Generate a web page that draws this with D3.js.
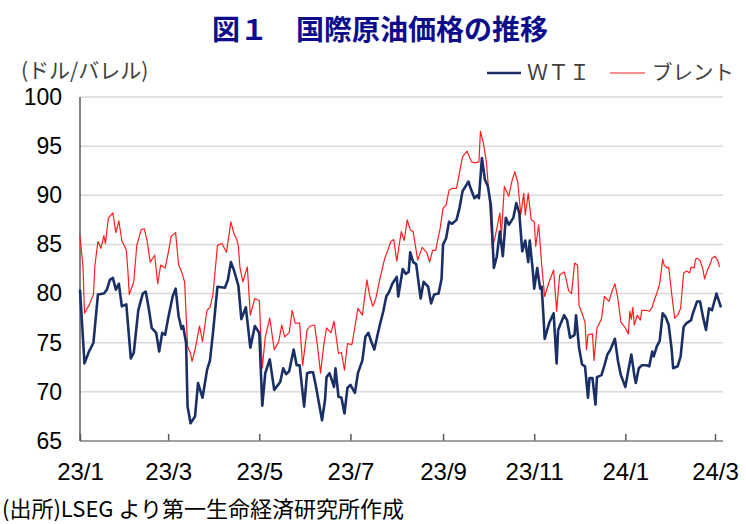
<!DOCTYPE html>
<html>
<head>
<meta charset="utf-8">
<script src="https://cdn.jsdelivr.net/npm/d3@7"></script>
<style>
  body { margin: 0; background: #fff; }
  svg { display: block; }
</style>
</head>
<body>
<svg id="chart" width="746" height="524"></svg>
<script>
// x axis labels (yy/m) and y ticks
var monthTicks = ["23/1", "23/3", "23/5", "23/7", "23/9", "23/11", "24/1", "24/3"];
var yTicks = [65, 70, 75, 80, 85, 90, 95, 100];

// WTI, USD/bbl
var wti = [
  ["23-01-01", 80.4], ["23-01-04", 72.9], ["23-01-07", 74.1], ["23-01-10", 75.0], ["23-01-13", 79.9],
  ["23-01-17", 80.0], ["23-01-19", 80.4], ["23-01-21", 81.4], ["23-01-23", 81.6], ["23-01-25", 80.4],
  ["23-01-27", 81.0], ["23-01-29", 78.7], ["23-02-01", 78.9], ["23-02-04", 73.4], ["23-02-06", 74.0],
  ["23-02-09", 78.3], ["23-02-12", 80.0], ["23-02-14", 80.2], ["23-02-16", 78.5], ["23-02-18", 76.5],
  ["23-02-21", 76.0], ["23-02-23", 74.1], ["23-02-25", 76.0], ["23-02-27", 75.8], ["23-03-01", 77.5],
  ["23-03-04", 79.7], ["23-03-06", 80.5], ["23-03-08", 77.7], ["23-03-10", 76.4], ["23-03-11", 76.7],
  ["23-03-13", 75.0], ["23-03-14", 68.5], ["23-03-16", 66.8], ["23-03-19", 67.5], ["23-03-21", 70.9],
  ["23-03-24", 69.4], ["23-03-27", 72.2], ["23-03-29", 73.2], ["23-03-31", 76.0], ["23-04-03", 80.7],
  ["23-04-08", 80.6], ["23-04-10", 81.4], ["23-04-12", 83.2], ["23-04-14", 82.4], ["23-04-17", 80.8],
  ["23-04-19", 77.4], ["23-04-22", 78.6], ["23-04-25", 74.5], ["23-04-28", 76.7], ["23-05-01", 76.0],
  ["23-05-03", 68.6], ["23-05-05", 71.9], ["23-05-08", 73.3], ["23-05-11", 70.2], ["23-05-15", 71.0],
  ["23-05-17", 72.4], ["23-05-19", 71.8], ["23-05-21", 72.1], ["23-05-24", 74.3], ["23-05-26", 72.7],
  ["23-05-28", 72.7], ["23-05-31", 68.5], ["23-06-02", 71.9], ["23-06-04", 72.0], ["23-06-06", 72.0],
  ["23-06-08", 70.5], ["23-06-12", 67.1], ["23-06-14", 69.2], ["23-06-15", 71.5], ["23-06-17", 71.9],
  ["23-06-20", 70.5], ["23-06-21", 72.4], ["23-06-23", 69.5], ["23-06-25", 69.4], ["23-06-27", 67.8],
  ["23-06-29", 70.4], ["23-07-01", 70.7], ["23-07-04", 69.9], ["23-07-06", 71.9], ["23-07-09", 73.2],
  ["23-07-11", 75.6], ["23-07-13", 76.0], ["23-07-15", 75.1], ["23-07-17", 74.3], ["23-07-19", 75.7],
  ["23-07-21", 77.0], ["23-07-23", 78.2], ["23-07-25", 79.7], ["23-07-27", 80.2], ["23-07-29", 81.0],
  ["23-08-01", 81.7], ["23-08-02", 79.7], ["23-08-05", 82.5], ["23-08-07", 82.0], ["23-08-09", 82.2],
  ["23-08-10", 84.2], ["23-08-12", 83.2], ["23-08-14", 83.0], ["23-08-17", 79.5], ["23-08-19", 81.2],
  ["23-08-22", 80.7], ["23-08-24", 79.0], ["23-08-26", 79.9], ["23-08-29", 80.0], ["23-08-31", 81.5],
  ["23-09-01", 85.0], ["23-09-03", 85.6], ["23-09-05", 87.3], ["23-09-07", 87.1], ["23-09-10", 87.5],
  ["23-09-12", 88.7], ["23-09-14", 90.4], ["23-09-18", 91.4], ["23-09-19", 90.9], ["23-09-22", 89.7],
  ["23-09-24", 90.0], ["23-09-25", 89.7], ["23-09-27", 93.8], ["23-09-29", 91.6], ["23-10-01", 90.9],
  ["23-10-03", 89.0], ["23-10-05", 82.6], ["23-10-07", 83.8], ["23-10-09", 86.3], ["23-10-11", 83.8],
  ["23-10-13", 87.7], ["23-10-15", 87.0], ["23-10-18", 87.7], ["23-10-20", 89.2], ["23-10-22", 88.2],
  ["23-10-24", 84.3], ["23-10-26", 85.4], ["23-10-28", 83.2], ["23-10-29", 85.4], ["23-10-31", 82.4],
  ["23-11-01", 80.5], ["23-11-03", 82.6], ["23-11-05", 80.5], ["23-11-06", 80.7], ["23-11-07", 78.2],
  ["23-11-08", 75.4], ["23-11-11", 77.0], ["23-11-14", 78.0], ["23-11-16", 72.9], ["23-11-17", 76.3],
  ["23-11-21", 77.8], ["23-11-23", 77.3], ["23-11-25", 75.5], ["23-11-28", 75.8], ["23-11-29", 77.8],
  ["23-12-01", 74.5], ["23-12-03", 72.8], ["23-12-05", 72.6], ["23-12-07", 69.4], ["23-12-08", 71.4],
  ["23-12-10", 71.4], ["23-12-12", 68.7], ["23-12-13", 71.5], ["23-12-16", 71.7], ["23-12-18", 72.7],
  ["23-12-20", 73.8], ["23-12-22", 74.3], ["23-12-25", 75.4], ["23-12-27", 73.2], ["23-12-29", 71.7],
  ["24-01-01", 70.5], ["24-01-03", 72.2], ["24-01-05", 73.8], ["24-01-07", 71.7], ["24-01-08", 70.9],
  ["24-01-10", 72.4], ["24-01-12", 72.7], ["24-01-15", 72.7], ["24-01-17", 72.6], ["24-01-19", 74.1],
  ["24-01-20", 73.6], ["24-01-22", 74.6], ["24-01-24", 75.2], ["24-01-26", 78.0], ["24-01-28", 77.6],
  ["24-01-30", 76.8], ["24-02-01", 74.3], ["24-02-02", 72.4], ["24-02-05", 72.6], ["24-02-07", 73.6],
  ["24-02-09", 76.6], ["24-02-11", 77.0], ["24-02-14", 77.3], ["24-02-15", 77.9], ["24-02-18", 79.2],
  ["24-02-20", 79.2], ["24-02-22", 77.6], ["24-02-24", 76.3], ["24-02-26", 78.5], ["24-02-28", 78.3],
  ["24-03-02", 80.0], ["24-03-05", 78.6]
];

// Brent, USD/bbl
var brent = [
  ["23-01-01", 85.9], ["23-01-03", 82.7], ["23-01-04", 78.0], ["23-01-07", 78.8], ["23-01-10", 79.9],
  ["23-01-11", 82.9], ["23-01-13", 85.3], ["23-01-15", 84.6], ["23-01-17", 85.9], ["23-01-18", 85.1],
  ["23-01-20", 87.7], ["23-01-23", 88.2], ["23-01-25", 86.2], ["23-01-27", 87.4], ["23-01-29", 85.4],
  ["23-02-01", 84.4], ["23-02-02", 82.4], ["23-02-03", 79.9], ["23-02-06", 81.2], ["23-02-08", 84.9],
  ["23-02-11", 86.5], ["23-02-13", 86.6], ["23-02-15", 85.3], ["23-02-17", 83.2], ["23-02-20", 83.9],
  ["23-02-22", 81.0], ["23-02-24", 82.9], ["23-02-27", 82.6], ["23-03-01", 84.1], ["23-03-03", 85.8],
  ["23-03-06", 86.2], ["23-03-08", 82.9], ["23-03-10", 82.2], ["23-03-12", 81.2], ["23-03-14", 74.6],
  ["23-03-16", 73.9], ["23-03-17", 73.1], ["23-03-19", 74.3], ["23-03-22", 76.7], ["23-03-24", 75.1],
  ["23-03-27", 78.3], ["23-03-29", 78.6], ["23-03-31", 79.9], ["23-04-03", 84.9], ["23-04-06", 85.1],
  ["23-04-09", 84.2], ["23-04-12", 87.3], ["23-04-14", 86.1], ["23-04-16", 85.5], ["23-04-17", 84.8],
  ["23-04-18", 82.7], ["23-04-20", 81.2], ["23-04-23", 82.7], ["23-04-25", 77.8], ["23-04-28", 79.5],
  ["23-05-01", 79.3], ["23-05-03", 72.4], ["23-05-05", 75.6], ["23-05-08", 77.5], ["23-05-11", 74.3],
  ["23-05-14", 75.1], ["23-05-16", 76.8], ["23-05-18", 75.6], ["23-05-21", 76.0], ["23-05-23", 78.3],
  ["23-05-25", 77.0], ["23-05-28", 77.0], ["23-05-30", 72.7], ["23-06-02", 76.3], ["23-06-04", 76.7],
  ["23-06-07", 76.8], ["23-06-09", 74.6], ["23-06-11", 71.9], ["23-06-13", 74.6], ["23-06-15", 76.5],
  ["23-06-18", 76.0], ["23-06-20", 77.2], ["23-06-23", 73.9], ["23-06-25", 74.0], ["23-06-27", 72.2],
  ["23-06-29", 74.9], ["23-07-02", 74.8], ["23-07-04", 76.6], ["23-07-06", 78.5], ["23-07-09", 77.8],
  ["23-07-12", 81.4], ["23-07-14", 79.7], ["23-07-16", 78.7], ["23-07-18", 79.5], ["23-07-21", 81.7],
  ["23-07-24", 83.6], ["23-07-26", 84.4], ["23-07-28", 85.3], ["23-07-30", 85.5], ["23-08-01", 83.3],
  ["23-08-04", 86.3], ["23-08-06", 85.4], ["23-08-08", 87.5], ["23-08-10", 86.5], ["23-08-12", 86.3],
  ["23-08-15", 83.4], ["23-08-18", 84.7], ["23-08-21", 84.2], ["23-08-23", 83.2], ["23-08-25", 84.4],
  ["23-08-27", 84.4], ["23-08-30", 86.6], ["23-09-01", 88.7], ["23-09-03", 89.0], ["23-09-05", 90.5],
  ["23-09-07", 90.7], ["23-09-10", 90.7], ["23-09-12", 92.3], ["23-09-14", 93.9], ["23-09-17", 94.5],
  ["23-09-20", 93.4], ["23-09-22", 93.3], ["23-09-25", 93.4], ["23-09-26", 96.5], ["23-09-28", 95.3],
  ["23-09-30", 93.4], ["23-10-02", 89.5], ["23-10-04", 84.6], ["23-10-06", 85.9], ["23-10-09", 88.2],
  ["23-10-10", 85.9], ["23-10-12", 90.9], ["23-10-15", 89.9], ["23-10-17", 91.4], ["23-10-19", 92.4],
  ["23-10-21", 91.3], ["23-10-23", 88.0], ["23-10-25", 90.2], ["23-10-26", 88.0], ["23-10-28", 90.2],
  ["23-10-30", 87.5], ["23-11-01", 87.3], ["23-11-02", 84.8], ["23-11-04", 87.0], ["23-11-06", 82.9],
  ["23-11-08", 79.7], ["23-11-11", 81.2], ["23-11-14", 82.4], ["23-11-16", 78.2], ["23-11-18", 81.9],
  ["23-11-21", 82.2], ["23-11-22", 81.7], ["23-11-24", 80.3], ["23-11-26", 80.0], ["23-11-28", 83.1],
  ["23-11-30", 82.9], ["23-12-01", 78.8], ["23-12-03", 78.0], ["23-12-05", 77.1], ["23-12-06", 74.3],
  ["23-12-07", 75.8], ["23-12-10", 75.9], ["23-12-11", 73.2], ["23-12-13", 76.5], ["23-12-16", 77.4],
  ["23-12-18", 79.7], ["23-12-21", 79.2], ["23-12-23", 80.2], ["23-12-25", 81.0], ["23-12-27", 79.5],
  ["23-12-29", 77.1], ["24-01-01", 76.5], ["24-01-03", 75.9], ["24-01-04", 78.2], ["24-01-05", 77.4],
  ["24-01-06", 78.6], ["24-01-07", 76.8], ["24-01-09", 77.8], ["24-01-11", 77.3], ["24-01-12", 78.3],
  ["24-01-15", 78.3], ["24-01-17", 78.2], ["24-01-19", 78.6], ["24-01-20", 79.2], ["24-01-22", 80.0],
  ["24-01-24", 81.0], ["24-01-26", 83.5], ["24-01-27", 82.9], ["24-01-29", 82.6], ["24-01-30", 82.7],
  ["24-02-01", 80.0], ["24-02-03", 77.5], ["24-02-05", 77.8], ["24-02-07", 78.5], ["24-02-09", 82.1],
  ["24-02-11", 82.3], ["24-02-13", 82.1], ["24-02-14", 82.7], ["24-02-16", 82.6], ["24-02-17", 83.5],
  ["24-02-18", 83.6], ["24-02-20", 83.4], ["24-02-22", 82.4], ["24-02-23", 81.5], ["24-02-25", 82.4],
  ["24-02-27", 83.1], ["24-02-28", 83.6], ["24-03-01", 83.8], ["24-03-03", 83.3], ["24-03-04", 82.7]
];

var parseDay = d3.timeParse("%y-%m-%d");
var parseMonth = d3.timeParse("%y/%m");

var jpFont = "'Noto Sans CJK JP', sans-serif";
var numFont = "'Liberation Sans Narrow', 'Liberation Sans', sans-serif";

var plotLeft = 80, plotRight = 723, plotTop = 97, plotBottom = 441;

var svg = d3.select("#chart");

var x = d3.scaleTime()
    .domain([parseMonth("23/1"), parseMonth("24/3")])
    .range([plotLeft, 715]);

var y = d3.scaleLinear()
    .domain([65, 100])
    .range([plotBottom, plotTop]);

// title
svg.append("text")
    .attr("x", 380)
    .attr("y", 40)
    .attr("text-anchor", "middle")
    .style("font-family", jpFont)
    .style("font-weight", "bold")
    .style("font-size", "28px")
    .style("fill", "#0d0d8c")
    .text("図１　国際原油価格の推移");

// unit
svg.append("text")
    .attr("x", 21)
    .attr("y", 78)
    .style("font-family", jpFont)
    .style("font-size", "21px")
    .style("fill", "#404040")
    .text("(ドル/バレル)");

// gridlines
svg.append("g")
    .selectAll("line")
    .data(yTicks.filter(function (d) { return d > 65; }))
    .enter().append("line")
    .attr("x1", plotLeft)
    .attr("x2", plotRight)
    .attr("y1", function (d) { return y(d); })
    .attr("y2", function (d) { return y(d); })
    .attr("stroke", "#d9d9d9")
    .attr("stroke-width", 1.5);

// y axis labels
var yAxis = d3.axisLeft(y)
    .tickValues(yTicks)
    .tickSize(0)
    .tickPadding(18)
    .tickFormat(d3.format("d"));

var gy = svg.append("g")
    .attr("transform", "translate(" + plotLeft + ",0)")
    .call(yAxis);
gy.select(".domain").remove();
gy.selectAll("text")
    .style("font-family", numFont)
    .style("font-size", "23px")
    .style("fill", "#000");

// x axis
var xAxis = d3.axisBottom(x)
    .tickValues(monthTicks.map(function (m) { return parseMonth(m); }))
    .tickSize(-7)
    .tickPadding(22)
    .tickFormat(function (d, i) { return monthTicks[i]; });

var gx = svg.append("g")
    .attr("transform", "translate(0," + plotBottom + ")")
    .call(xAxis);
gx.select(".domain").remove();
gx.selectAll("line").attr("stroke", "#595959").attr("stroke-width", 1.5);
gx.selectAll("text")
    .style("font-family", numFont)
    .style("font-size", "24px")
    .style("fill", "#000");

svg.append("line")
    .attr("x1", plotLeft).attr("x2", plotRight)
    .attr("y1", plotBottom).attr("y2", plotBottom)
    .attr("stroke", "#7f7f7f").attr("stroke-width", 1.5);

svg.append("line")
    .attr("x1", plotLeft).attr("x2", plotLeft)
    .attr("y1", plotTop).attr("y2", plotBottom)
    .attr("stroke", "#595959").attr("stroke-width", 1.5);

// lines
var line = d3.line()
    .x(function (d) { return x(parseDay(d[0])); })
    .y(function (d) { return y(d[1]); });

svg.append("path")
    .datum(brent)
    .attr("d", line)
    .attr("fill", "none")
    .attr("stroke", "#ff1f1f")
    .attr("stroke-width", 1.2)
    .attr("stroke-linejoin", "round");

svg.append("path")
    .datum(wti)
    .attr("d", line)
    .attr("fill", "none")
    .attr("stroke", "#1a2f66")
    .attr("stroke-width", 2.6)
    .attr("stroke-linejoin", "round");

// legend
var legend = svg.append("g");
legend.append("line")
    .attr("x1", 487).attr("x2", 521).attr("y1", 73).attr("y2", 73)
    .attr("stroke", "#1a2f66").attr("stroke-width", 2.6);
legend.append("text")
    .attr("x", 527).attr("y", 80)
    .style("font-family", jpFont).style("font-size", "21px").style("fill", "#404040")
    .text("ＷＴＩ");
legend.append("line")
    .attr("x1", 610).attr("x2", 645).attr("y1", 73).attr("y2", 73)
    .attr("stroke", "#ff1f1f").attr("stroke-width", 1.2);
legend.append("text")
    .attr("x", 652).attr("y", 80)
    .style("font-family", jpFont).style("font-size", "20.5px").style("fill", "#404040")
    .text("ブレント");

// source note
svg.append("text")
    .attr("x", 2)
    .attr("y", 517)
    .style("font-family", jpFont)
    .style("font-size", "22px")
    .style("fill", "#000")
    .text("(出所)LSEG より第一生命経済研究所作成");
</script>
</body>
</html>
